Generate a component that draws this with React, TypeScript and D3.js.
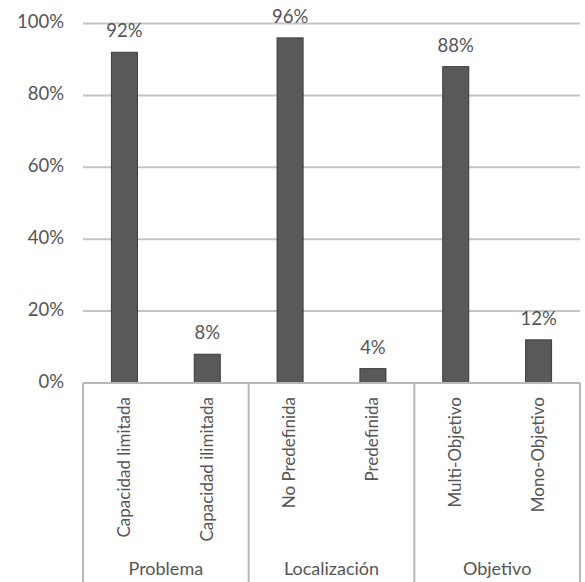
import React from "react";
import * as d3 from "d3";

const categories = [
  "Capacidad limitada",
  "Capacidad ilimitada",
  "No Predefinida",
  "Predefinida",
  "Multi-Objetivo",
  "Mono-Objetivo",
];
const values = [92, 8, 96, 4, 88, 12];
const groups = ["Problema", "Localización", "Objetivo"];
const groupSizes = [2, 2, 2];
const yTicks = [0, 20, 40, 60, 80, 100];

const W = 585;
const H = 582;
const left = 83;
const right = 580;
const top = 23.5;
const baseY = 383;

const FONT = "Lato, 'Open Sans', sans-serif";
const TEXT = "#555555";

export default function App() {
  const x = d3
    .scaleBand<string>()
    .domain(categories)
    .range([left, right])
    .paddingInner(0.686)
    .paddingOuter(0.343);
  const y = d3.scaleLinear().domain([0, 100]).range([baseY, top]);
  const step = x.step();
  const bw = x.bandwidth();

  // group boundaries along the category axis
  const bounds: number[] = [left];
  let acc = 0;
  groupSizes.forEach((n) => {
    acc += n;
    bounds.push(left + acc * step);
  });

  return (
    <div style={{ position: "absolute", left: 0, top: 0 }}>
      <svg width={W} height={H} style={{ display: "block", background: "#fff" }}>
        {yTicks.slice(1).map((t) => (
          <line key={t} x1={left} x2={right} y1={y(t)} y2={y(t)} stroke="#c4c4c4" strokeWidth={2} />
        ))}
        {yTicks.map((t) => (
          <text
            key={"l" + t}
            x={64}
            y={y(t)}
            textAnchor="end"
            dominantBaseline="middle"
            fontFamily={FONT}
            fontSize={18.5}
            fill={TEXT}
          >
            {t}%
          </text>
        ))}
        {categories.map((c, i) => (
          <g key={c}>
            <rect
              x={x(c)!}
              y={y(values[i])}
              width={bw}
              height={baseY - y(values[i])}
              fill="#595959"
              stroke="#3a3a3a"
              strokeWidth={1}
            />
            <text
              x={x(c)! + bw / 2}
              y={y(values[i]) - 15}
              textAnchor="middle"
              fontFamily={FONT}
              fontSize={18.5}
              fill={TEXT}
            >
              {values[i]}%
            </text>
            <text
              transform={`translate(${x(c)! + bw / 2 + 1},397) rotate(-90)`}
              textAnchor="end"
              dominantBaseline="middle"
              fontFamily={FONT}
              fontSize={17}
              fill={TEXT}
            >
              {c}
            </text>
          </g>
        ))}
        <line x1={left} x2={right} y1={baseY} y2={baseY} stroke="#b8b8b8" strokeWidth={2} />
        {bounds.map((b, i) => (
          <line key={"b" + i} x1={b} x2={b} y1={baseY} y2={H} stroke="#b8b8b8" strokeWidth={2} />
        ))}
        {groups.map((g, i) => (
          <text
            key={g}
            x={(bounds[i] + bounds[i + 1]) / 2}
            y={575}
            textAnchor="middle"
            fontFamily={FONT}
            fontSize={18}
            fill={TEXT}
          >
            {g}
          </text>
        ))}
      </svg>
    </div>
  );
}
